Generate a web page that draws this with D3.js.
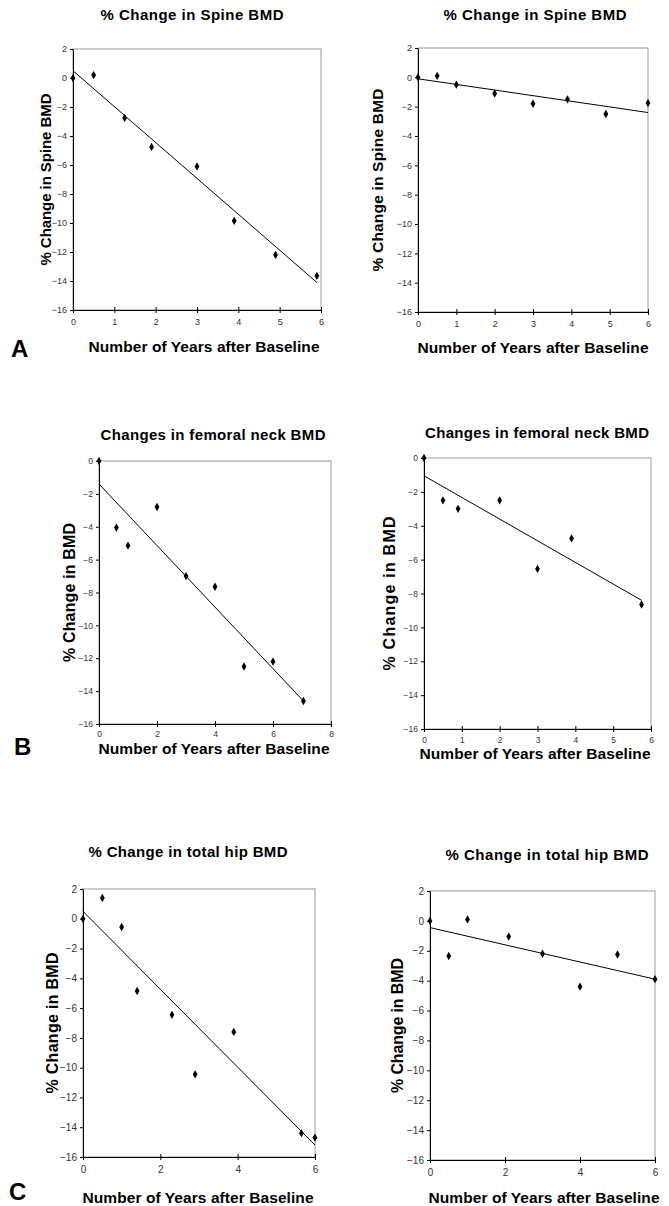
<!DOCTYPE html>
<html>
<head>
<meta charset="utf-8">
<script src="https://d3js.org/d3.v7.min.js"></script>
<style>
body { margin: 0; background: #fff; }
svg text { font-family: "Liberation Sans", Arial, sans-serif; }
.title, .xlab, .ylab, .letter { font-weight: bold; fill: #000; }
.tick text { fill: #333; }
.frame { fill: none; stroke: #999; stroke-width: 1; }
.fit { stroke: #000; stroke-width: 1; fill: none; }
</style>
</head>
<body>
<svg width="669" height="1206"></svg>
<script>

// data values (x = years, y = % change)
var spineX1 = [0, 0.5, 1.25, 1.9, 3, 3.9, 4.9, 5.9];
var spineY1 = [0, 0.2, -2.75, -4.75, -6.1, -9.85, -12.2, -13.65];
var spineFit1 = [[0, 0.5], [5.9, -14.1]];

var spineX2 = [0, 0.5, 1, 2, 3, 3.9, 4.9, 6];
var spineY2 = [0, 0.1, -0.5, -1.1, -1.8, -1.5, -2.5, -1.75];
var spineFit2 = [[0, -0.1], [6, -2.4]];

var neckX1 = [0, 0.6, 1, 2, 3, 4, 5, 6, 7.05];
var neckY1 = [0, -4.05, -5.15, -2.8, -7, -7.65, -12.5, -12.2, -14.6];
var neckFit1 = [[0, -1.4], [7.05, -14.6]];

var neckX2 = [0, 0.5, 0.9, 2, 3, 3.9, 5.75];
var neckY2 = [0, -2.5, -3, -2.5, -6.55, -4.75, -8.65];
var neckFit2 = [[0, -1.05], [5.75, -8.4]];

var hipX1 = [0, 0.5, 1, 1.4, 2.3, 2.9, 3.9, 5.65, 6];
var hipY1 = [0, 1.4, -0.55, -4.85, -6.45, -10.45, -7.6, -14.4, -14.7];
var hipFit1 = [[0, 0.5], [6, -15.2]];

var hipX2 = [0, 0.5, 1, 2.1, 3, 4, 5, 6];
var hipY2 = [0, -2.35, 0.1, -1.05, -2.2, -4.4, -2.25, -3.9];
var hipFit2 = [[0, -0.45], [6, -3.9]];

var spineTitle = "% Change in Spine BMD";
var neckTitle = "Changes in femoral neck BMD";
var hipTitle = "% Change in total hip BMD";
var xTitle = "Number of Years after Baseline";
var yTitleSpine = "% Change in Spine BMD";
var yTitleBmd = "% Change in BMD";

var yTicksA = d3.range(2, -17, -2);
var yTicksB = d3.range(0, -17, -2);
var xTicks6 = d3.range(0, 7, 1);
var xTicks8 = d3.range(0, 9, 2);
var xTicks6by2 = d3.range(0, 7, 2);

// layout for each panel
var panels = [
  {xs: spineX1, ys: spineY1, fit: spineFit1, title: spineTitle, ylab: yTitleSpine,
   xd: [0, 6], yd: [-16, 2], xt: xTicks6, yt: yTicksA,
   box: [73, 49, 321, 310], tx: 192, ty: 20, tw: 183, yx: 46, yw: 172, yf: 15, xly: 352, xlx: 204, tick: 9, pad: 6},
  {xs: spineX2, ys: spineY2, fit: spineFit2, title: spineTitle, ylab: yTitleSpine,
   xd: [0, 6], yd: [-16, 2], xt: xTicks6, yt: yTicksA,
   box: [418, 48, 648, 312], tx: 535, ty: 20, tw: 183, yx: 378, yw: 183, yf: 15.5, xly: 353, xlx: 533, tick: 9, pad: 6},
  {xs: neckX1, ys: neckY1, fit: neckFit1, title: neckTitle, ylab: yTitleBmd,
   xd: [0, 8], yd: [-16, 0], xt: xTicks8, yt: yTicksB,
   box: [99, 461, 331, 724], tx: 213, ty: 440, tw: 225, yx: 69, yw: 139, yf: 16, xly: 754, xlx: 214, tick: 8.5, pad: 4},
  {xs: neckX2, ys: neckY2, fit: neckFit2, title: neckTitle, ylab: yTitleBmd,
   xd: [0, 6], yd: [-16, 0], xt: xTicks6, yt: yTicksB,
   box: [424, 458, 651, 729], tx: 537, ty: 438, tw: 224, yx: 389, yw: 154, yf: 16, xly: 759, xlx: 535, tick: 8.5, pad: 5},
  {xs: hipX1, ys: hipY1, fit: hipFit1, title: hipTitle, ylab: yTitleBmd,
   xd: [0, 6], yd: [-16, 2], xt: xTicks6by2, yt: yTicksA,
   box: [83, 889, 315, 1157], tx: 188, ty: 857, tw: 199, yx: 52, yw: 141, yf: 16, xly: 1203, xlx: 198, tick: 10, pad: 6},
  {xs: hipX2, ys: hipY2, fit: hipFit2, title: hipTitle, ylab: yTitleBmd,
   xd: [0, 6], yd: [-16, 2], xt: xTicks6by2, yt: yTicksA,
   box: [430, 891, 655, 1160], tx: 547, ty: 860, tw: 203, yx: 397, yw: 135, yf: 16, xly: 1203, xlx: 544, tick: 10, pad: 6}
];

var letters = [["A", 11, 357], ["B", 14, 755], ["C", 9, 1200]];

var svg = d3.select("svg");

panels.forEach(function(p) {
  var g = svg.append("g");
  var x = d3.scaleLinear().domain(p.xd).range([p.box[0], p.box[2]]);
  var y = d3.scaleLinear().domain(p.yd).range([p.box[3], p.box[1]]);

  g.append("rect")
      .attr("class", "frame")
      .attr("x", p.box[0]).attr("y", p.box[1])
      .attr("width", p.box[2] - p.box[0]).attr("height", p.box[3] - p.box[1]);

  var xa = g.append("g")
      .attr("transform", "translate(0," + p.box[3] + ")")
      .call(d3.axisBottom(x).tickValues(p.xt).tickFormat(d3.format("d"))
        .tickSize(3).tickPadding(p.pad).tickSizeOuter(0));
  // x ticks cross the axis line
  xa.selectAll(".tick line").attr("y1", -3).attr("y2", 3);

  var ya = g.append("g")
      .attr("transform", "translate(" + p.box[0] + ",0)")
      .call(d3.axisLeft(y).tickValues(p.yt).tickFormat(d3.format("d"))
        .tickSize(3).tickPadding(3).tickSizeOuter(0));

  [xa, ya].forEach(function(a) {
    a.attr("font-family", null).attr("font-size", null);
    a.selectAll(".tick text").style("font-size", p.tick + "px");
    a.select(".domain").attr("stroke", "#000");
  });

  g.append("line")
      .attr("class", "fit")
      .attr("x1", x(p.fit[0][0])).attr("y1", y(p.fit[0][1]))
      .attr("x2", x(p.fit[1][0])).attr("y2", y(p.fit[1][1]));

  g.selectAll("path.pt")
    .data(p.xs.map(function(v, i) { return [v, p.ys[i]]; }))
    .enter().append("path")
      .attr("class", "pt")
      .attr("d", d3.symbol().type(d3.symbolDiamond).size(20))
      .attr("transform", function(d) { return "translate(" + x(d[0]) + "," + y(d[1]) + ")"; })
      .attr("fill", "#000");

  g.append("text")
      .attr("class", "title")
      .attr("x", p.tx).attr("y", p.ty)
      .attr("text-anchor", "middle")
      .attr("font-size", 15)
      .attr("textLength", p.tw).attr("lengthAdjust", "spacing")
      .text(p.title);

  g.append("text")
      .attr("class", "xlab")
      .attr("x", p.xlx).attr("y", p.xly)
      .attr("text-anchor", "middle")
      .attr("font-size", 15.5)
      .attr("textLength", 231).attr("lengthAdjust", "spacing")
      .text(xTitle);

  var yc = (p.box[1] + p.box[3]) / 2;
  g.append("text")
      .attr("class", "ylab")
      .attr("transform", "translate(" + p.yx + "," + yc + ") rotate(-90)")
      .attr("text-anchor", "middle")
      .attr("dy", "0.35em")
      .attr("font-size", p.yf)
      .attr("textLength", p.yw).attr("lengthAdjust", "spacing")
      .text(p.ylab);
});

svg.selectAll("text.letter")
  .data(letters)
  .enter().append("text")
    .attr("class", "letter")
    .attr("x", function(d) { return d[1]; })
    .attr("y", function(d) { return d[2]; })
    .attr("font-size", 24)
    .text(function(d) { return d[0]; });

</script>
</body>
</html>
